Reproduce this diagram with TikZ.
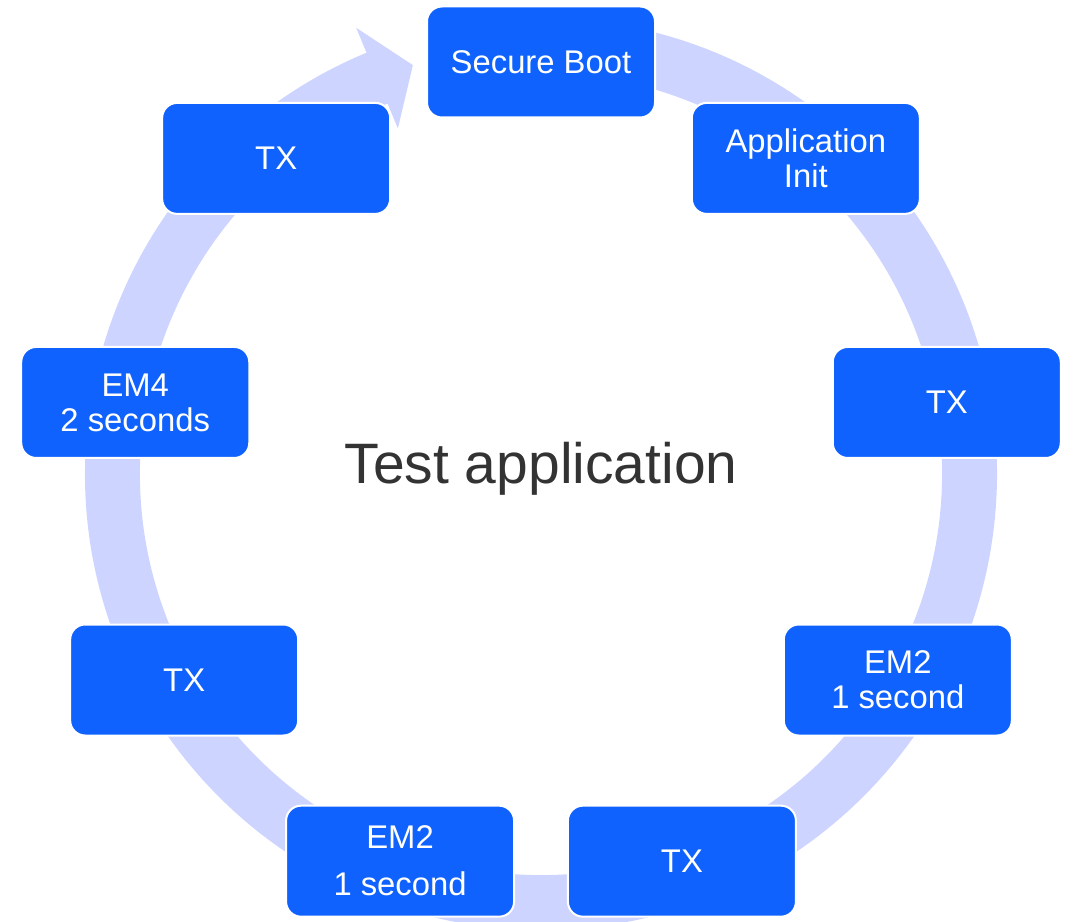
\documentclass[tikz,border=0pt]{standalone}
\usepackage{fontspec}
\setmainfont{Liberation Sans}
\definecolor{stageblue}{RGB}{16,98,254}
\definecolor{ringblue}{RGB}{205,212,255}
\definecolor{titlegray}{RGB}{51,51,51}
\tikzset{
  stage/.style={fill=stageblue,draw=white,line width=1pt,rounded corners=7.5pt,
    minimum width=114pt,minimum height=55.5pt,text=white,align=center,
    font=\fontsize{16.4}{17.5}\selectfont},
}
\begin{document}
\begin{tikzpicture}[x=0.5pt,y=0.5pt]
        \useasboundingbox (-541,-447) rectangle (533,474);
        % ring with its arrow head, running clockwise back to the top
        \fill [ringblue] (85:456) arc[start angle=85,end angle=-247.5,radius=456]
          -- (112.5:483) -- (107.4:428.5) -- (112.5:374) -- (112.5:401)
          arc[start angle=-247.5,end angle=85,radius=401] -- cycle;
        \node[font=\fontsize{28.5}{30}\selectfont,text=titlegray] (title) at (0,5) {Test application};
        \node[stage] (boot) at (90:412) {Secure Boot};
        \node[stage] (init) at (50:412) {Application\\Init};
        \node[stage] (txa) at (10:412) {TX};
        \node[stage] (ema) at (-30:412) {EM2\\1 second};
        \node[stage] (txb) at (-70:412) {TX};
        \node[stage] (emb) at (-110:412) {EM2\\[6pt]1 second};
        \node[stage] (txc) at (-150:412) {TX};
        \node[stage] (emc) at (170:412) {EM4\\2 seconds};
        \node[stage] (txd) at (130:412) {TX};
        % \draw (0,0) circle[radius=428];
      \end{tikzpicture}
\end{document}
